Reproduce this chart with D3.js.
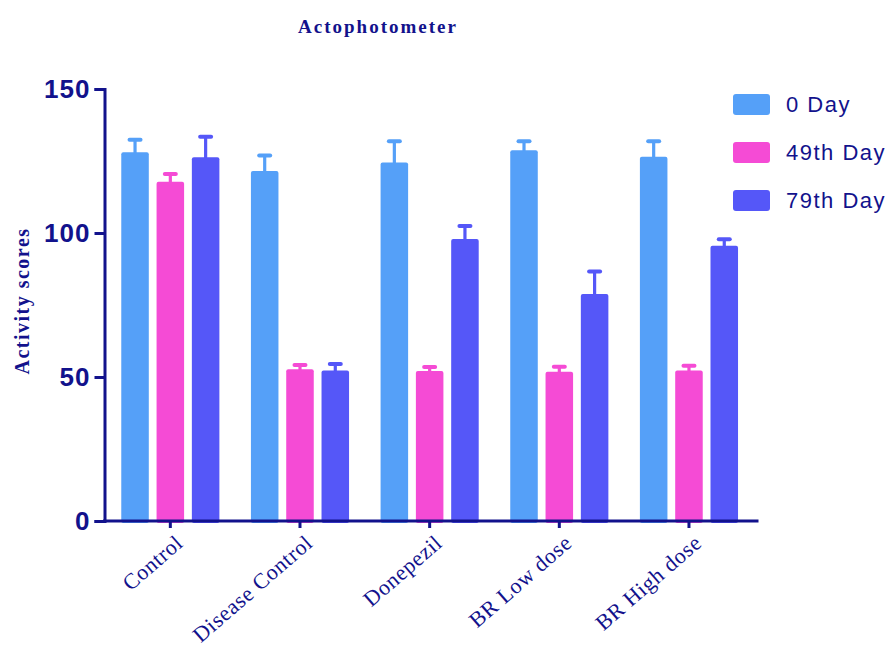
<!DOCTYPE html>
<html>
<head>
<meta charset="utf-8">
<script src="https://cdn.jsdelivr.net/npm/d3@7"></script>
<style>
  html, body { margin: 0; padding: 0; background: #ffffff; }
  svg { display: block; }
</style>
</head>
<body>
<svg id="chart" width="888" height="646"></svg>
<script>
// Groups and series
const groups = ["Control", "Disease Control", "Donepezil", "BR Low dose", "BR High dose"];
const seriesNames = ["0 Day", "49th Day", "79th Day"];

// Mean activity scores per group
const day0  = [128.0, 121.5, 124.5, 128.7, 126.5];
const day49 = [117.8, 52.7, 52.1, 51.8, 52.3];
const day79 = [126.3, 52.3, 97.9, 78.8, 95.6];

// Upper error (SEM) per group
const err0  = [4.4, 5.4, 7.4, 3.2, 5.4];
const err49 = [2.7, 1.5, 1.4, 1.8, 1.6];
const err79 = [7.1, 2.2, 4.5, 7.8, 2.2];

const yTicks = [0, 50, 100, 150];
const colors = ["#55a0f8", "#f54bd5", "#5557f8"];

const ink = "#12128c";
const svg = d3.select("#chart");

const x0 = 105.5, x1 = 753.8;
const yBottom = 521, yTop = 89;

const x = d3.scaleBand().domain(groups).range([x0, x1])
  .paddingInner(0.1833).paddingOuter(0.1833 / 2);
const xi = d3.scaleBand().domain(seriesNames).range([0, x.bandwidth()])
  .paddingInner(0.22).paddingOuter(0.11);
const y = d3.scaleLinear().domain([0, 150]).range([yBottom, yTop]);

const means = [day0, day49, day79];
const errs = [err0, err49, err79];
const rows = [];
groups.forEach((g, gi) => {
  seriesNames.forEach((s, si) => {
    rows.push({ g, s, si, v: means[si][gi], e: errs[si][gi] });
  });
});

// Error bars (upper only)
const eb = svg.append("g").selectAll("g").data(rows).join("g")
  .attr("transform", d => `translate(${x(d.g) + xi(d.s) + xi.bandwidth() / 2},0)`);
eb.append("line")
  .attr("y1", d => y(d.v) + 2).attr("y2", d => y(d.v + d.e))
  .attr("stroke", d => colors[d.si]).attr("stroke-width", 3.2);
eb.append("line")
  .attr("x1", -5.5).attr("x2", 5.5)
  .attr("y1", d => y(d.v + d.e)).attr("y2", d => y(d.v + d.e))
  .attr("stroke", d => colors[d.si]).attr("stroke-width", 4)
  .attr("stroke-linecap", "round");

// Bars
svg.append("g").selectAll("rect").data(rows).join("rect")
  .attr("x", d => x(d.g) + xi(d.s))
  .attr("width", xi.bandwidth())
  .attr("y", d => y(d.v))
  .attr("height", d => y(0) - y(d.v) + 2)
  .attr("rx", 2)
  .attr("fill", d => colors[d.si]);

// Y axis
const yAxis = svg.append("g")
  .attr("transform", `translate(${x0 - 1},0)`)
  .call(d3.axisLeft(y).tickValues(yTicks).tickSize(10).tickPadding(4));
yAxis.select(".domain").attr("stroke", ink).attr("stroke-width", 3);
yAxis.selectAll(".tick line").attr("stroke", ink).attr("stroke-width", 3);
yAxis.selectAll(".tick text")
  .attr("fill", ink)
  .style("font-family", "'Liberation Sans', Arial, sans-serif")
  .style("font-weight", "bold")
  .style("font-size", "26px")
  .style("letter-spacing", "1px");

// X axis
const xAxis = svg.append("g")
  .attr("transform", `translate(0,${yBottom})`)
  .call(d3.axisBottom(x).tickSize(7).tickFormat(""));
xAxis.select(".domain").remove();
xAxis.append("line")
  .attr("x1", x0 - 2.5).attr("x2", 758.5)
  .attr("stroke", ink).attr("stroke-width", 3);
xAxis.selectAll(".tick line").attr("stroke", ink).attr("stroke-width", 3);
xAxis.selectAll(".tick").append("text")
  .attr("transform", "translate(14,24) rotate(-41)")
  .attr("text-anchor", "end")
  .attr("fill", ink)
  .style("font-family", "'Liberation Serif', 'Times New Roman', serif")
  .style("font-size", "22px")
  .style("letter-spacing", "0.6px")
  .text(d => d);

// Title
svg.append("text")
  .attr("x", 378).attr("y", 33)
  .attr("text-anchor", "middle")
  .attr("fill", ink)
  .style("font-family", "'Liberation Serif', 'Times New Roman', serif")
  .style("font-weight", "bold")
  .style("font-size", "19px")
  .style("letter-spacing", "2px")
  .text("Actophotometer");

// Y axis title
svg.append("text")
  .attr("transform", "translate(28.5,301) rotate(-90)")
  .attr("text-anchor", "middle")
  .attr("fill", ink)
  .style("font-family", "'Liberation Serif', 'Times New Roman', serif")
  .style("font-weight", "bold")
  .style("font-size", "20px")
  .style("letter-spacing", "1.5px")
  .text("Activity scores");

// Legend
const legend = svg.append("g").selectAll("g").data(seriesNames).join("g")
  .attr("transform", (d, i) => `translate(733,${94 + i * 48})`);
legend.append("rect")
  .attr("width", 37).attr("height", 21).attr("rx", 3)
  .attr("fill", (d, i) => colors[i]);
legend.append("text")
  .attr("x", 53).attr("y", 10.5).attr("dy", "0.36em")
  .attr("fill", ink)
  .style("font-family", "'Liberation Sans', Arial, sans-serif")
  .style("font-size", "22px")
  .style("letter-spacing", "1.5px")
  .text(d => d);
</script>
</body>
</html>
